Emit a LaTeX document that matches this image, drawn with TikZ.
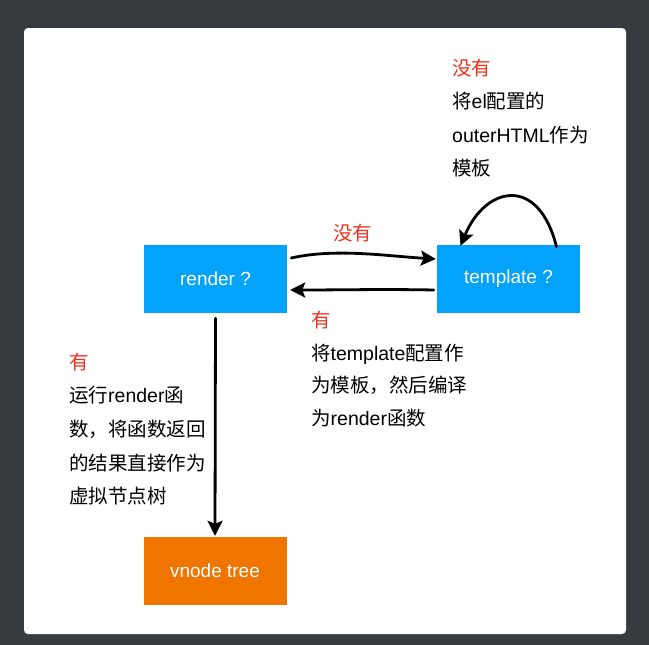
\documentclass[tikz,border=0pt]{standalone}
\usepackage{fontspec}
\setmainfont{Liberation Sans}
\newfontfamily\cjk{Noto Sans CJK SC}
\usetikzlibrary{arrows.meta}
\definecolor{bgdark}{HTML}{363B40}
\definecolor{boxblue}{HTML}{03A3FC}
\definecolor{boxorange}{HTML}{F07400}
\definecolor{labelred}{HTML}{F0321E}
\newcommand{\zh}[1]{{\cjk #1}}
\tikzset{
  flowbox/.style={minimum width=143pt, minimum height=68pt, inner sep=0pt, text=white, font=\fontsize{19}{22}\selectfont},
  txt/.style={anchor=base west, inner sep=0pt, font=\fontsize{19.5}{22}\selectfont, text=black},
  redtxt/.style={txt, text=labelred},
  sketch/.style={line width=2.8pt, black, line cap=round, -{Stealth[length=15pt,width=15pt,inset=3pt]}}
}
\begin{document}
\begin{tikzpicture}[x=1pt,y=-1pt]
\useasboundingbox (0,0) rectangle (649,645);
\fill[bgdark] (0,0) rectangle (649,645);
\fill[white, rounded corners=4pt] (24,28) rectangle (626,634);

\node[flowbox, fill=boxblue] (render) at (215.5,279) {render ?};
\node[flowbox, fill=boxblue] (template) at (508.5,279) {template ?};
\node[flowbox, fill=boxorange] (vnode) at (215,571) {vnode tree};

% top label
\node[redtxt] (t0) at (452,75) {\zh{没有}};
\node[txt] (t1) at (452,108) {\zh{将}el\zh{配置的}};
\node[txt] (t2) at (452,142) {outerHTML\zh{作为}};
\node[txt] (t3) at (452,175) {\zh{模板}};

% middle labels
\node[redtxt] (m0) at (333,240) {\zh{没有}};
\node[redtxt] (y0) at (311,327.5) {\zh{有}};
\node[txt] (y1) at (311,360.5) {\zh{将}template\zh{配置作}};
\node[txt] (y2) at (311,392.5) {\zh{为模板，然后编译}};
\node[txt] (y3) at (311,425.5) {\zh{为}render\zh{函数}};

% left labels
\node[redtxt] (l0) at (69,369.5) {\zh{有}};
\node[txt] (l1) at (69,402) {\zh{运行}render\zh{函}};
\node[txt] (l2) at (69,436.5) {\zh{数，将函数返回}};
\node[txt] (l3) at (69,470) {\zh{的结果直接作为}};
\node[txt] (l4) at (69,503) {\zh{虚拟节点树}};

% connectors
\draw[sketch] ([xshift=4pt,yshift=21pt]render.east) .. controls +(45,-10) and +(-50,-3) .. ([xshift=-1pt,yshift=20pt]template.west);
\draw[sketch] ([xshift=-3pt,yshift=-11pt]template.west) .. controls +(-50,-1) and +(50,0) .. ([xshift=3pt,yshift=-11pt]render.east);
\draw[sketch] ([xshift=48pt,yshift=-2pt]template.north) .. controls +(-18,-72) and +(25,-60) .. ([xshift=-48pt,yshift=-1pt]template.north);
\draw[sketch] ([yshift=-5pt]render.south) -- ([yshift=1pt]vnode.north);
\end{tikzpicture}
\end{document}
